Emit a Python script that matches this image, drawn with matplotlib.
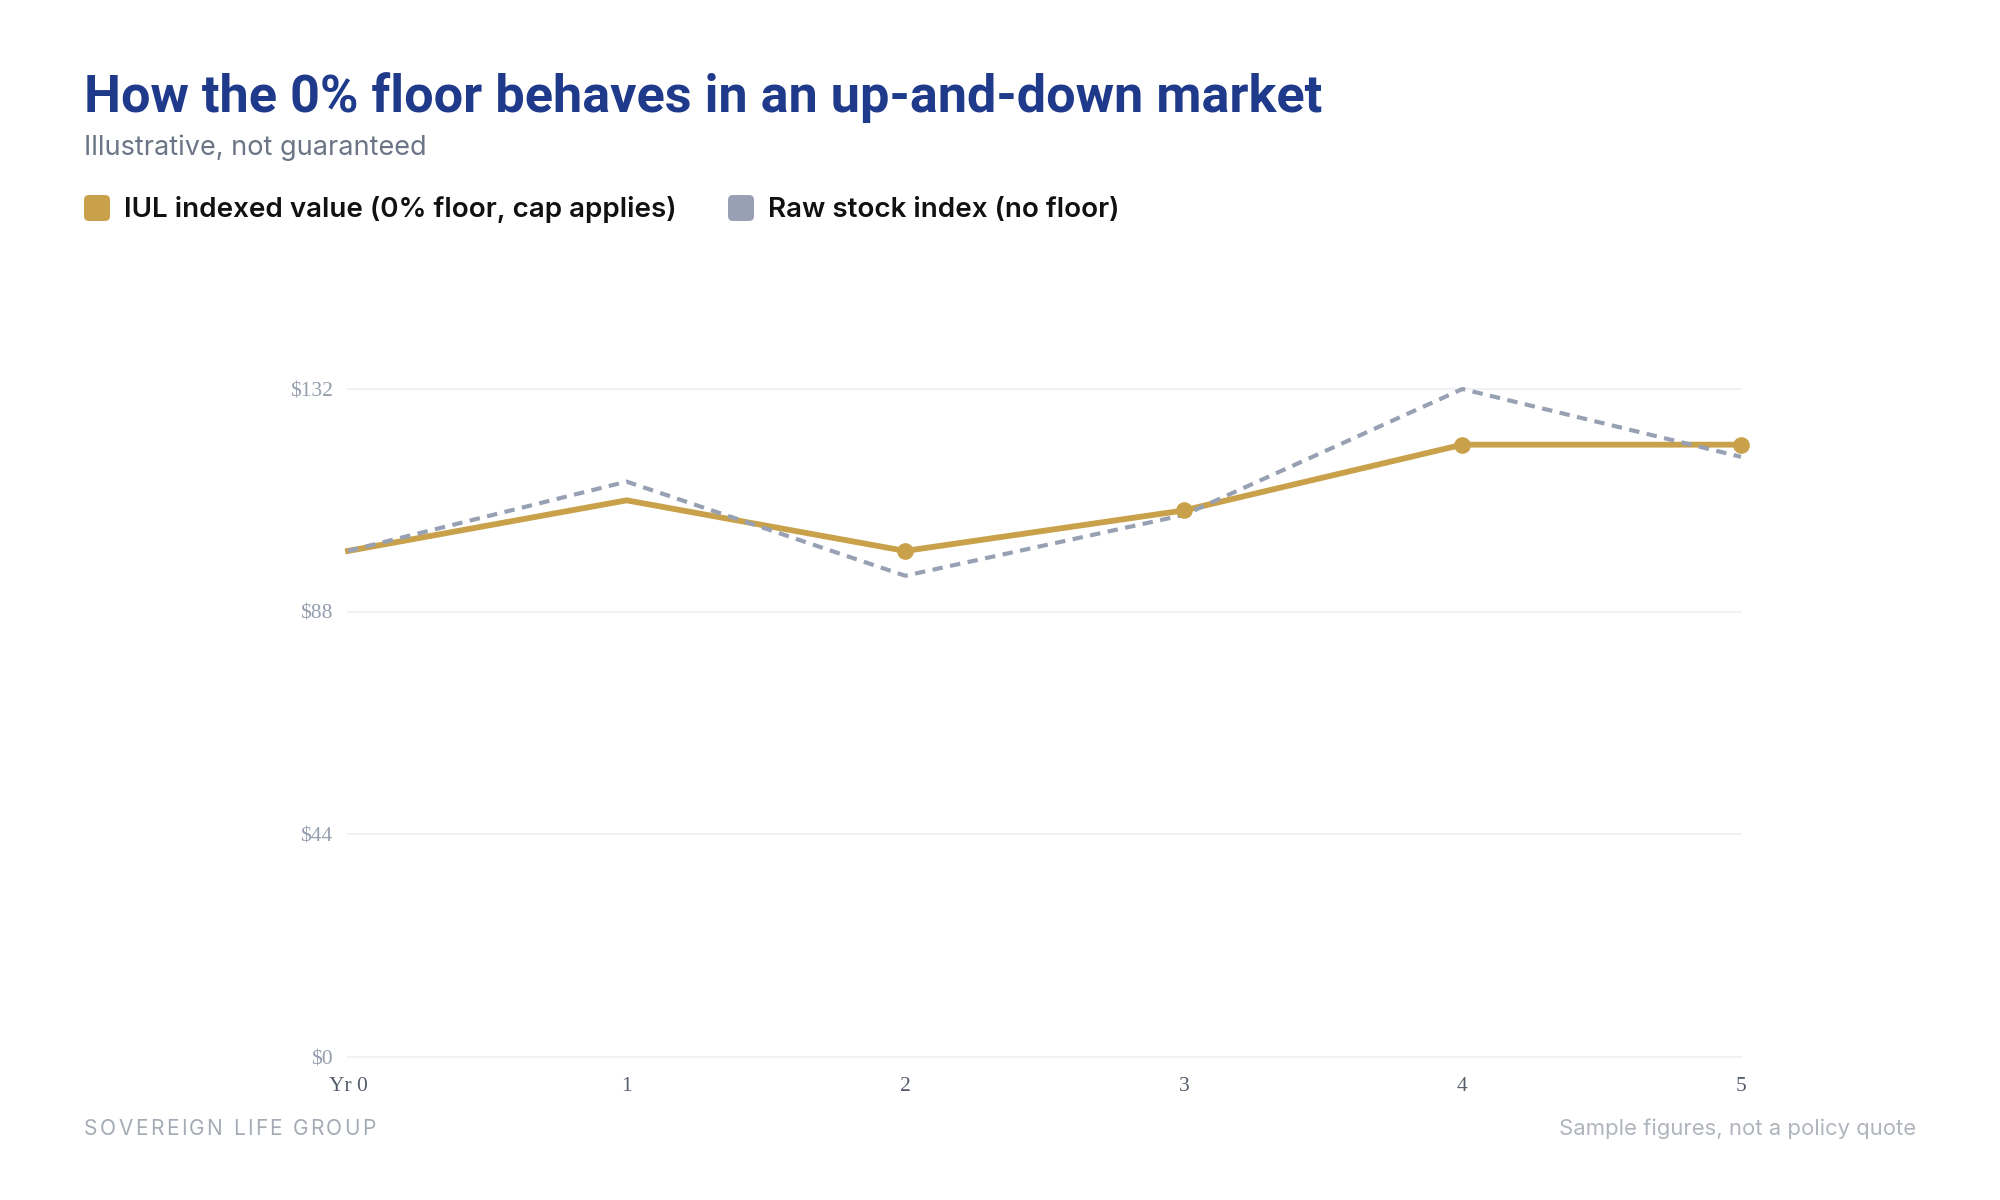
import matplotlib
matplotlib.use("Agg")
import matplotlib.pyplot as plt
from matplotlib.patches import FancyBboxPatch

# ---------------- data ----------------
years = [0, 1, 2, 3, 4, 5]
x_labels = ["Yr 0", "1", "2", "3", "4", "5"]
iul_values = [100, 110, 100, 108, 121, 121]
raw_values = [100, 113.7, 95.1, 107.1, 132, 118.6]
iul_marker_idx = [2, 3, 4, 5]
y_ticks = [0, 44, 88, 132]
y_tick_labels = ["$0", "$44", "$88", "$132"]

title = "How the 0% floor behaves in an up-and-down market"
subtitle = "Illustrative, not guaranteed"
legend_labels = ["IUL indexed value (0% floor, cap applies)", "Raw stock index (no floor)"]
footer_left = "SOVEREIGN LIFE GROUP"
footer_right = "Sample figures, not a policy quote"

GOLD = "#c9a14a"
SLATE = "#97a1b3"
NAVY = "#1f3a8a"

W, H = 2000, 1200
fig = plt.figure(figsize=(W / 100, H / 100), dpi=100)
fig.patch.set_facecolor("white")

def fx(x):
    return x / W

def fy(y):
    return 1 - y / H

# axes placement (pixels)
L, R, T, B = 348, 1741, 389, 1057
ax = fig.add_axes([fx(L), fy(B), (R - L) / W, (B - T) / H])
ax.set_xlim(0, 5)
ax.set_ylim(0, 132)
for s in ax.spines.values():
    s.set_visible(False)

ax.set_yticks(y_ticks)
ax.set_yticklabels(y_tick_labels)
ax.set_xticks(years)
ax.set_xticklabels(x_labels)
ax.tick_params(axis="both", length=0)
ax.tick_params(axis="y", pad=11, labelsize=15.5, labelcolor="#959eae")
ax.tick_params(axis="x", pad=14.5, labelsize=15.5, labelcolor="#565e6c")
for lab in ax.get_xticklabels() + ax.get_yticklabels():
    lab.set_fontfamily("Liberation Serif")

for yv in y_ticks:
    ax.axhline(yv, color="#eef0f3", lw=1.3, zorder=0, clip_on=False)

ax.plot(years, iul_values, color=GOLD, lw=4.2, solid_joinstyle="miter",
        zorder=2, clip_on=False)
ax.plot(years, raw_values, color=SLATE, lw=3.0, dashes=(2.5, 1.8),
        dash_capstyle="butt", zorder=3, clip_on=False)
ax.plot([years[i] for i in iul_marker_idx], [iul_values[i] for i in iul_marker_idx],
        linestyle="none", marker="o", markersize=11, color=GOLD, zorder=4, clip_on=False)

# ---------------- texts ----------------
fig.text(fx(84), fy(112), title, fontsize=37.6, fontweight="bold", color=NAVY,
         family="Roboto", va="baseline", ha="left")
fig.text(fx(84), fy(155), subtitle, fontsize=19.5, color="#6b7585",
         family="Inter", va="baseline", ha="left")

# legend
def legend_item(x_px, label, color):
    sq = 26
    yc = 208
    p = FancyBboxPatch(((x_px) / 100, (H - yc - sq / 2) / 100), sq / 100, sq / 100,
                       boxstyle="round,pad=0,rounding_size=0.05",
                       transform=fig.dpi_scale_trans, facecolor=color,
                       edgecolor="none")
    fig.patches.append(p)
    fig.text(fx(x_px + 40), fy(217), label, fontsize=20, fontweight="semibold",
             color="#111111", family="Inter", va="baseline", ha="left")

legend_item(84, legend_labels[0], GOLD)
legend_item(728, legend_labels[1], SLATE)

# footer left with letter spacing
fig.canvas.draw()
renderer = fig.canvas.get_renderer()
xpos = 84
spacing = 2.4
for ch in footer_left:
    t = fig.text(fx(xpos), fy(1135), ch, fontsize=15, color="#a5abb5",
                 family="Inter", va="baseline", ha="left")
    if ch == " ":
        w = 5.5
    else:
        w = t.get_window_extent(renderer).width
    xpos += w + spacing

fig.text(fx(1916), fy(1135), footer_right, fontsize=15.9, color="#b0b5bd",
         family="Inter", va="baseline", ha="right")

fig.savefig("out.png", dpi=100, facecolor="white")
